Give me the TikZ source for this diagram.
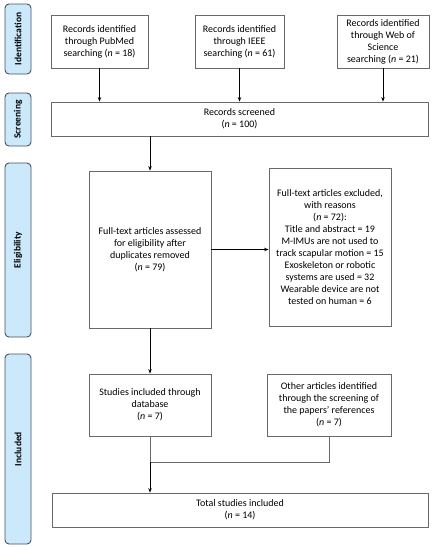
\documentclass[tikz,border=0pt]{standalone}
\usepackage{fontspec}
\setmainfont{Carlito}
\usetikzlibrary{arrows.meta}
\definecolor{sidefill}{RGB}{204,233,251}
\definecolor{sideline}{RGB}{70,80,95}
\definecolor{boxline}{RGB}{105,105,105}
\begin{document}
\begin{tikzpicture}[x=1pt,y=-1pt,
  box/.style={draw=boxline,line width=0.8pt,fill=white,align=center,inner sep=2pt,
    font=\fontsize{10}{12}\selectfont},
  side/.style={draw=sideline,line width=0.9pt,fill=sidefill,rounded corners=4pt,rotate=90,
    minimum height=26,inner sep=0pt,font=\fontsize{9.5}{11}\selectfont\bfseries},
  arr/.style={-{Stealth[length=4.5pt,width=3.5pt]},line width=0.7pt,black},
  ln/.style={line width=0.7pt,boxline}]
\useasboundingbox (0,0) rectangle (432,550);
% side labels
\node[side,minimum width=70] (sid) at (18,39) {Identification};
\node[side,minimum width=53] (sscr) at (18,119.5) {Screening};
\node[side,minimum width=174] (sel) at (18,250) {Eligibility};
\node[side,minimum width=190] (sinc) at (18,449) {Included};
% boxes
\node[box,minimum width=97,minimum height=53] (pub) at (99.5,41.5) {Records identified\\through PubMed\\searching (\textit{n} = 18)};
\node[box,minimum width=89,minimum height=53] (ieee) at (239.5,41.5) {Records identified\\through IEEE\\searching (\textit{n} = 61)};
\node[box,minimum width=92,minimum height=53] (wos) at (383,41.5) {Records identified\\through Web of\\Science\\searching (\textit{n} = 21)};
\node[box,minimum width=377,minimum height=34] (scr) at (239.5,119) {Records screened\\(\textit{n} = 100)};
\node[box,minimum width=122,minimum height=157] (asd) at (150,249.5) {Full-text articles assessed\\for eligibility after\\duplicates removed\\(\textit{n} = 79)};
\node[box,minimum width=122,minimum height=158] (exc) at (330,247) {Full-text articles excluded,\\with reasons\\(\textit{n} = 72):\\Title and abstract = 19\\M-IMUs are not used to\\track scapular motion = 15\\Exoskeleton or robotic\\systems are used = 32\\Wearable device are not\\tested on human = 6};
\node[box,minimum width=122,minimum height=62] (stu) at (150,405) {Studies included through\\database\\(\textit{n} = 7)};
\node[box,minimum width=124,minimum height=62] (oth) at (329,405) {Other articles identified\\through the screening of\\the papers' references\\(\textit{n} = 7)};
\node[box,minimum width=376,minimum height=34] (tot) at (240,510) {Total studies included\\(\textit{n} = 14)};
% connectors
\draw[arr] (pub.south) -- (pub.south |- scr.north);
\draw[arr] (ieee.south) -- (ieee.south |- scr.north);
\draw[arr] (wos.south) -- (wos.south |- scr.north);
\draw[arr] (asd.north |- scr.south) -- (asd.north);
\draw[arr] (asd.east) -- (asd.east -| exc.west);
\draw[arr] (asd.south) -- (stu.north);
\coordinate (j) at (150,462);
\draw[ln] (stu.south) -- (j);
\draw[ln] (oth.south) |- (j);
\draw[arr] (j) -- (j |- tot.north);
\end{tikzpicture}
\end{document}
